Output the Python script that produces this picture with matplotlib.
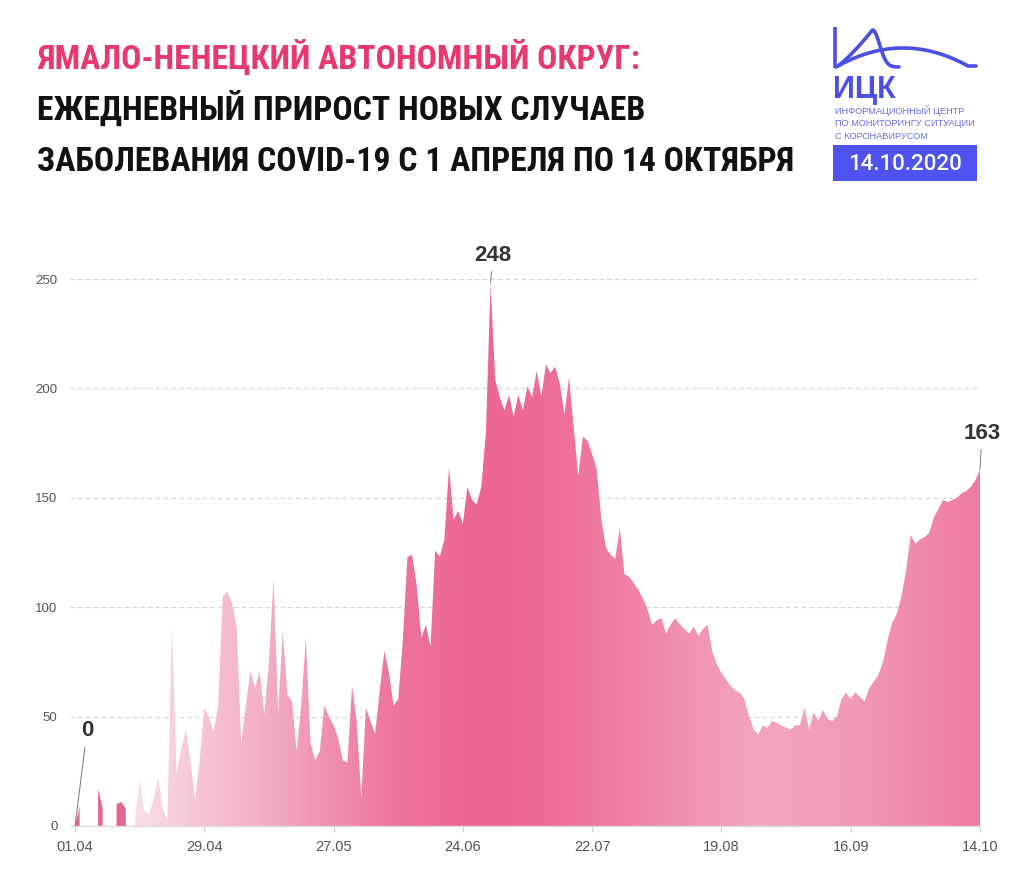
import numpy as np
import pandas as pd
import matplotlib
matplotlib.use("Agg")
import matplotlib.pyplot as plt
from matplotlib import font_manager as fm
from matplotlib.patches import Polygon, Rectangle
from matplotlib.colors import to_rgb

# ---------------- data ----------------
start_date = "2020-04-01"
end_date = "2020-10-14"
nan = np.nan
daily_new_cases = [
    0, 9, nan, nan, nan, 17, 8,
    nan, nan, 10, 11, 8, nan, 3,
    21, 7, 5, 12, 22, 8, 3,
    91, 24, 35, 44, 30, 12, 30,
    54, 50, 43, 55, 105, 107, 102,
    91, 38, 55, 71, 63, 71, 51,
    75, 113, 52, 89, 60, 57, 34,
    55, 86, 38, 30, 34, 55, 50,
    46, 40, 30, 29, 64, 48, 13,
    54, 48, 42, 62, 80, 70, 55,
    58, 85, 123, 124, 110, 86, 92,
    82, 126, 123, 131, 164, 140, 144,
    138, 155, 149, 147, 155, 180, 248,
    204, 196, 190, 197, 187, 197, 190,
    201, 196, 208, 196, 211, 207, 210,
    202, 188, 205, 182, 160, 178, 176,
    170, 163, 140, 127, 124, 122, 136,
    115, 114, 111, 108, 104, 99, 92,
    94, 95, 88, 92, 95, 92, 90,
    88, 91, 87, 90, 92, 80, 74,
    70, 67, 64, 62, 61, 58, 50,
    44, 42, 46, 45, 48, 47, 46,
    45, 44, 46, 46, 54, 44, 52,
    48, 53, 49, 48, 50, 58, 61,
    58, 61, 59, 57, 63, 66, 69,
    75, 85, 93, 97, 105, 117, 133,
    129, 131, 132, 134, 141, 145, 149,
    148, 149, 150, 152, 153, 155, 158,
    163,
]
x_tick_labels = ["01.04", "29.04", "27.05", "24.06", "22.07", "19.08", "16.09", "14.10"]
y_ticks = [0, 50, 100, 150, 200, 250]
annotated_values = [0, 248, 163]

title_lines = [
    "ЯМАЛО-НЕНЕЦКИЙ АВТОНОМНЫЙ ОКРУГ:",
    "ЕЖЕДНЕВНЫЙ ПРИРОСТ НОВЫХ СЛУЧАЕВ",
    "ЗАБОЛЕВАНИЯ COVID-19 С 1 АПРЕЛЯ ПО 14 ОКТЯБРЯ",
]
logo_name = "ИЦК"
logo_lines = ["ИНФОРМАЦИОННЫЙ ЦЕНТР", "ПО МОНИТОРИНГУ СИТУАЦИИ", "С КОРОНАВИРУСОМ"]
report_date = "14.10.2020"

# ---------------- setup ----------------
dates = pd.date_range(start_date, end_date, freq="D")
vals = np.array(daily_new_cases, dtype=float)
x = np.arange(len(dates), dtype=float)
tick_pos = [(pd.to_datetime(l + ".2020", format="%d.%m.%Y") - dates[0]).days for l in x_tick_labels]

W, H = 1024, 877
fig = plt.figure(figsize=(W / 100, H / 100), dpi=100)
fig.patch.set_facecolor("white")

names = {f.name for f in fm.fontManager.ttflist}
def pick(cands):
    for c in cands:
        if c in names:
            return c
    return "DejaVu Sans"
sans = pick(["Liberation Sans", "Arial", "DejaVu Sans"])
title_family = pick(["Liberation Sans Narrow", "Roboto Condensed", "DejaVu Sans"])
date_family = pick(["Roboto", "Liberation Sans", "DejaVu Sans"])

# axes geometry (pixel)
px_per_day = 905 / 196.0
x_left_px = 75 - 1.1 * px_per_day
ax_left, ax_right = x_left_px, 980
y0_px = 826
px_per_unit = 547 / 250.0
ymax = 260
y_top_px = y0_px - ymax * px_per_unit
ax = fig.add_axes([ax_left / W, (H - y0_px) / H, (ax_right - ax_left) / W, (y0_px - y_top_px) / H])
ax.set_xlim(-1.1, 196)
ax.set_ylim(0, ymax)
ax.set_facecolor("none")

for s in ["top", "right", "left"]:
    ax.spines[s].set_visible(False)
ax.spines["bottom"].set_color("#dcdcdc")
ax.spines["bottom"].set_linewidth(1.0)

ax.set_yticks(y_ticks)
ax.set_yticklabels([str(v) for v in y_ticks])
ax.tick_params(axis="y", length=0, pad=9, labelsize=9.5, labelcolor="#555555")
for lab in ax.get_yticklabels():
    lab.set_family(sans)
ax.set_xticks(tick_pos)
ax.set_xticklabels(x_tick_labels)
ax.tick_params(axis="x", length=4, width=0.8, color="#cfcfcf", pad=6, labelsize=10.5, labelcolor="#555555")
for lab in ax.get_xticklabels():
    lab.set_family(sans)
for yv in y_ticks[1:]:
    ax.axhline(yv, color="#d6d6d6", lw=0.8, ls=(0, (4, 3)), zorder=1)

# ---------------- area segments ----------------
valid = ~np.isnan(vals)
segments = []
i = 0
n = len(vals)
while i < n:
    if valid[i]:
        j = i
        while j + 1 < n and valid[j + 1]:
            j += 1
        segments.append((i, j))
        i = j + 1
    else:
        i += 1

stop_days = [13, 21, 27, 40, 55, 70, 88, 105, 125, 148, 168, 196]
stop_cols = ["#f9dde6", "#f8d0dc", "#f6c5d3", "#f3b0c3", "#f090ad", "#ed7399",
             "#ec6690", "#ed6e96", "#ef88a8", "#f3a6bd", "#f19ab5", "#ee7ba0"]
stop_rgb = np.array([to_rgb(c) for c in stop_cols])

for (a, b) in segments:
    xs = x[a:b + 1]
    ys = vals[a:b + 1]
    verts = [(xs[0], 0)] + list(zip(xs, ys)) + [(xs[-1], 0)]
    if b - a < 6:
        poly = Polygon(verts, closed=True, facecolor="#e2678f", edgecolor="none", zorder=2)
        ax.add_patch(poly)
    else:
        poly = Polygon(verts, closed=True, facecolor="none", edgecolor="none", zorder=2)
        ax.add_patch(poly)
        gx = np.linspace(xs[0], xs[-1], 600)
        img = np.stack([np.interp(gx, stop_days, stop_rgb[:, k]) for k in range(3)], axis=-1)[None, :, :]
        im = ax.imshow(img, extent=[xs[0], xs[-1], 0, ymax], aspect="auto", origin="lower",
                       interpolation="bilinear", zorder=2)
        im.set_clip_path(poly)

# ---------------- annotations ----------------
ann_offsets = {0: (12, 95), 248: (2, 28), 163: (2, 36)}
for v in annotated_values:
    idx = int(np.where(vals == v)[0][-1]) if v != 0 else 0
    dx, dy = ann_offsets[v]
    ax.annotate(str(v), xy=(x[idx], vals[idx]), xytext=(dx * 0.72, dy * 0.72),
                textcoords="offset points", ha="center", va="center",
                fontsize=16, fontweight="bold", color="#333333", family=sans,
                arrowprops=dict(arrowstyle="-", color="#777777", lw=0.7, shrinkA=2, shrinkB=0),
                zorder=5, annotation_clip=False)

# ---------------- title ----------------
title_cols = ["#e8386f", "#111111", "#111111"]
baselines = [69, 120, 171]
texts = []
for line, c, yb in zip(title_lines, title_cols, baselines):
    t = fig.text(37 / W, 1 - yb / H, line, fontsize=34, family=title_family, weight="bold",
                 stretch="condensed", color=c, ha="left", va="baseline")
    texts.append(t)
r = fig.canvas.get_renderer()
w3 = texts[2].get_window_extent(r).width
fs = min(34.5, 34 * 758 / w3)
for t in texts:
    t.set_fontsize(fs)

# ---------------- logo ----------------
lax = fig.add_axes([0, 0, 1, 1], zorder=-1)
lax.set_xlim(0, W)
lax.set_ylim(H, 0)
lax.axis("off")
blue = "#4b4fe6"
lw = 2.6
lax.plot([835, 835], [27, 68], color=blue, lw=lw, solid_capstyle="butt")
t = np.linspace(0, 1, 120)
bx = 836 + (899 - 836) * t
by = np.where(t < 0.58, 67 - 37 * (t / 0.58) ** 1.2,
              67 - 37 * np.exp(-((t - 0.58) / 0.2) ** 2 * 1.6))
lax.plot(bx, by, color=blue, lw=lw, solid_capstyle="round")
wx = np.linspace(838, 968, 120)
wy = 48 + 18 * ((wx - 903) / 65) ** 2
wy = np.minimum(wy, 66)
lax.plot(np.append(wx, 976), np.append(wy, 66), color=blue, lw=lw, solid_capstyle="round")
lax.text(833, 98, logo_name, fontsize=22, fontweight="bold", color=blue, family=sans,
         ha="left", va="baseline")
for k, s in enumerate(logo_lines):
    lax.text(835, 114 + 12.5 * k, s, fontsize=6.7, color="#6a6de8", family=sans,
             ha="left", va="baseline")
lax.add_patch(Rectangle((833, 145), 144, 36, facecolor="#4f52ee", edgecolor="none"))
lax.text(905, 164, report_date, fontsize=16, color="white", family=date_family,
         fontweight="medium", ha="center", va="center")

fig.savefig("out.png", dpi=100, facecolor="white")
